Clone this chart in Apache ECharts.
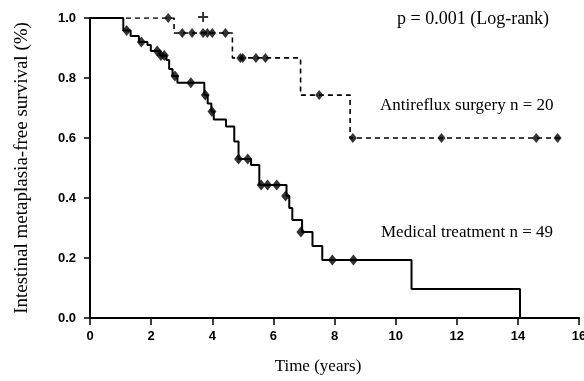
<!DOCTYPE html>
<html>
<head>
<meta charset="utf-8">
<script src="https://cdn.jsdelivr.net/npm/echarts@6/dist/echarts.min.js"></script>
<style>
  html, body { margin: 0; padding: 0; background: #fff; }
  #chart { width: 584px; height: 381px; }
</style>
</head>
<body>
<div id="chart"></div>
<script>
// Kaplan-Meier step points: time (years) at which survival changes, and the new value
const medicalTimes = [0, 1.09, 1.33, 1.6, 1.88, 1.99, 2.28, 2.5, 2.59, 2.7, 2.86, 3.74, 3.85, 3.97, 4.05, 4.45, 4.72, 4.86, 5.27, 5.54, 6.43, 6.52, 6.62, 6.94, 7.28, 7.6, 10.52, 14.07];
const medicalSurv  = [1.0, 0.958, 0.94, 0.92, 0.91, 0.89, 0.875, 0.86, 0.83, 0.807, 0.784, 0.743, 0.715, 0.688, 0.662, 0.638, 0.588, 0.53, 0.51, 0.443, 0.407, 0.367, 0.327, 0.287, 0.24, 0.193, 0.097, 0.0];

const surgeryTimes = [0, 2.75, 4.66, 6.89, 8.51, 15.4];
const surgerySurv  = [1.0, 0.95, 0.867, 0.743, 0.6, 0.6];

// Censored observations (diamonds)
const medicalCensorT = [1.2, 1.68, 2.2, 2.32, 2.43, 2.78, 3.3, 3.77, 3.99, 4.86, 5.16, 5.6, 5.81, 6.11, 6.4, 6.9, 7.93, 8.62];
const medicalCensorS = [0.958, 0.92, 0.89, 0.875, 0.875, 0.807, 0.784, 0.743, 0.688, 0.53, 0.53, 0.443, 0.443, 0.443, 0.407, 0.287, 0.193, 0.193];

const surgeryCensorT = [2.56, 3.02, 3.34, 3.7, 3.84, 4.0, 4.43, 4.92, 5.0, 5.43, 5.74, 7.5, 8.6, 11.5, 14.6, 15.3];
const surgeryCensorS = [1.0, 0.95, 0.95, 0.95, 0.95, 0.95, 0.95, 0.867, 0.867, 0.867, 0.867, 0.743, 0.6, 0.6, 0.6, 0.6];

// Extra "+" mark on the top line
const plusT = [3.7];
const plusS = [1.0];

const xTicks = [0, 2, 4, 6, 8, 10, 12, 14, 16];
const yTicks = [0.0, 0.2, 0.4, 0.6, 0.8, 1.0];

const zip = (a, b) => a.map((v, i) => [v, b[i]]);

const serif = '"Liberation Serif", "DejaVu Serif", serif';
const sans = '"Liberation Sans", Arial, sans-serif';

const chart = echarts.init(document.getElementById('chart'));
chart.setOption({
  animation: false,
  backgroundColor: '#fff',
  grid: { left: 90, right: 5, top: 18, bottom: 63, containLabel: false, outerBoundsMode: 'none' },
  xAxis: {
    type: 'value', min: xTicks[0], max: xTicks[xTicks.length - 1], interval: 2,
    axisLine: { lineStyle: { color: '#000', width: 2 } },
    axisTick: { show: true, length: 7, lineStyle: { color: '#000', width: 1.5 } },
    axisLabel: { fontFamily: sans, fontWeight: 'bold', fontSize: 13, color: '#000', margin: 12,
                 formatter: v => String(v) },
    splitLine: { show: false }
  },
  yAxis: {
    type: 'value', min: yTicks[0], max: yTicks[yTicks.length - 1], interval: 0.2,
    name: 'Intestinal metaplasia-free survival (%)', nameLocation: 'middle', nameGap: 58,
    nameTextStyle: { fontFamily: serif, fontSize: 19, color: '#000' },
    axisLine: { show: true, lineStyle: { color: '#000', width: 2 } },
    axisTick: { show: true, length: 6, lineStyle: { color: '#000', width: 1.5 } },
    axisLabel: { fontFamily: sans, fontWeight: 'bold', fontSize: 13, color: '#000', margin: 14,
                 formatter: v => v.toFixed(1) },
    splitLine: { show: false }
  },
  graphic: [
    { type: 'text', x: 318, y: 367, style: { text: 'Time (years)', font: '17px ' + serif, fill: '#000', align: 'center', verticalAlign: 'middle' } },
    { type: 'text', x: 397, y: 19, style: { text: 'p = 0.001 (Log-rank)', font: '18px ' + serif, fill: '#000', verticalAlign: 'middle' } },
    { type: 'text', x: 380, y: 106, style: { text: 'Antireflux surgery n = 20', font: '17px ' + serif, fill: '#000', verticalAlign: 'middle' } },
    { type: 'text', x: 381, y: 233, style: { text: 'Medical treatment n = 49', font: '17px ' + serif, fill: '#000', verticalAlign: 'middle' } }
  ],
  series: [
    {
      name: 'Antireflux surgery', type: 'line', step: 'end', data: zip(surgeryTimes, surgerySurv),
      showSymbol: false, lineStyle: { color: '#000', width: 1.6, type: [5, 4] }, z: 2
    },
    {
      name: 'Medical treatment', type: 'line', step: 'end', data: zip(medicalTimes, medicalSurv),
      showSymbol: false, lineStyle: { color: '#000', width: 2 }, z: 3
    },
    {
      name: 'Surgery censored', type: 'scatter', data: zip(surgeryCensorT, surgeryCensorS),
      symbol: 'diamond', symbolSize: [8, 10], itemStyle: { color: '#000' }, z: 4
    },
    {
      name: 'Medical censored', type: 'scatter', data: zip(medicalCensorT, medicalCensorS),
      symbol: 'diamond', symbolSize: [9, 11], itemStyle: { color: '#000' }, z: 4
    },
    {
      name: 'Plus mark', type: 'scatter', data: zip(plusT, plusS),
      symbol: 'path://M4,0h2v4h4v2h-4v4h-2v-4h-4v-2h4z', symbolSize: 10, symbolOffset: [0, -1],
      itemStyle: { color: '#000' }, z: 4
    }
  ]
});
</script>
</body>
</html>
